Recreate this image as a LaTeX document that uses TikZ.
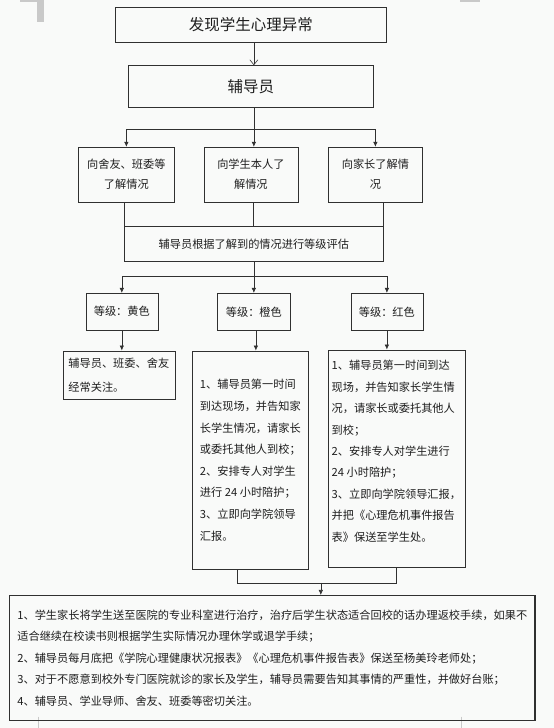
\documentclass[tikz,border=0pt]{standalone}
\usepackage{fontspec}
\setmainfont{Noto Sans CJK SC}
\usepackage{tikz}
\usetikzlibrary{arrows.meta,positioning}
\definecolor{lineink}{HTML}{303030}
\definecolor{textink}{HTML}{1E1E1E}
\definecolor{pagebg}{HTML}{F9FAF9}
\definecolor{markgray}{HTML}{C9C9C9}

\begin{document}
\begin{tikzpicture}[
  x=1pt, y=-1pt,
  box/.style={rectangle, draw=lineink, line width=0.6pt, text=textink, inner sep=0pt, align=center, font=\fontsize{11.2}{20}\selectfont},
  titlebox/.style={box, font=\fontsize{15.5}{18}\selectfont},
  notebox/.style={box, align=left, font=\fontsize{11.2}{21.6}\selectfont},
  arrow/.style={-{Latex[length=5pt,width=4.5pt]}, line width=0.6pt, draw=lineink},
  openarrow/.style={-{Straight Barb[length=5pt,width=8pt]}, line width=0.6pt, draw=lineink},
  link/.style={line width=0.6pt, draw=lineink}
]
% page and margin marks
\fill[pagebg] (0,0) rectangle (554,728);
\fill[markgray] (37,0) rectangle (44,22);
\fill[markgray] (20,0) rectangle (44,1.5);
\fill[markgray] (460,0) rectangle (480,1.5);
\draw[markgray, line width=0.8pt] (38,717) -- (38,728);
\draw[markgray, line width=0.8pt] (462,717) -- (462,728);

\node[titlebox, minimum width=272pt, minimum height=35pt] (found) at (251,24.5) {发现学生心理异常};
\node[titlebox, minimum width=246pt, minimum height=42pt, below=23pt of found] (cnsl) {辅导员};
\node[box, minimum width=94pt, minimum height=55pt, below=39pt of cnsl] (ask2) {向学生本人了\\解情况};
\node[box, minimum width=96pt, minimum height=55pt, left=29pt of ask2] (ask1) {向舍友、班委等\\了解情况};
\node[box, minimum width=94pt, minimum height=55pt, right=30pt of ask2] (ask3) {向家长了解情\\况};
\node[box, minimum width=260pt, minimum height=35pt, below=24pt of ask2, xshift=3pt] (assess) {辅导员根据了解到的情况进行等级评估};
\node[box, minimum width=73pt, minimum height=37pt, below=31pt of assess] (orange) {等级：橙色};
\node[box, minimum width=72pt, minimum height=37pt, left=59pt of orange] (yellow) {等级：黄色};
\node[box, minimum width=72pt, minimum height=37pt, right=60pt of orange] (red) {等级：红色};
\node[notebox, font=\fontsize{11.2}{24}\selectfont, minimum width=112pt, minimum height=49pt, below=20pt of yellow, xshift=-3pt] (yellowact) {辅导员、班委、舍友\\经常关注。};
\node[notebox, minimum width=116pt, minimum height=219pt, below=20pt of orange, xshift=-3.5pt] (orangeact) {1、辅导员第一时间\\到达现场，并告知家\\长学生情况，请家长\\或委托其他人到校；\\2、安排专人对学生\\进行 24 小时陪护；\\3、立即向学院领导\\汇报。};
\node[notebox, font=\fontsize{11.2}{21.4}\selectfont, minimum width=137pt, minimum height=218pt, text depth=16pt, below=19pt of red, xshift=9.5pt] (redact) {1、辅导员第一时间到达\\现场，并告知家长学生情\\况，请家长或委托其他人\\到校；\\2、安排专人对学生进行\\24 小时陪护；\\3、立即向学院领导汇报，\\并把《心理危机事件报告\\表》保送至学生处。};
\node[notebox, font=\fontsize{11.2}{21.5}\selectfont, minimum width=526pt, minimum height=125pt, line width=1.5pt, below=25pt of orangeact, xshift=22pt] (after) {1、学生家长将学生送至医院的专业科室进行治疗，治疗后学生状态适合回校的话办理返校手续，如果不\\适合继续在校读书则根据学生实际情况办理休学或退学手续；\\2、辅导员每月底把《学院心理健康状况报表》《心理危机事件报告表》保送至杨美玲老师处；\\3、对于不愿意到校外专门医院就诊的家长及学生，辅导员需要告知其事情的严重性，并做好台账；\\4、辅导员、学业导师、舍友、班委等密切关注。};

\draw[openarrow] ([xshift=3pt]found.south) -- ([xshift=3pt]found.south |- cnsl.north);
\draw[link] ([xshift=3pt]cnsl.south) -- ++(0pt,-21pt) coordinate (split1);
\draw[arrow] (split1) -| (ask1);
\draw[arrow] (split1) -- (split1 |- ask2.north);
\draw[arrow] (split1) -| (ask3);
\draw[link] ([xshift=-2pt]ask1.south) -- ([xshift=-2pt]ask1.south |- assess.north);
\draw[link] ([xshift=2pt]ask2.south) -- ([xshift=2pt]ask2.south |- assess.north);
\draw[link] ([xshift=8pt]ask3.south) -- ([xshift=8pt]ask3.south |- assess.north);
\draw[link] (assess.south) -- ++(0pt,-14pt) coordinate (split2);
\draw[arrow] (split2) -| (yellow);
\draw[arrow] (split2) -- (split2 |- orange.north);
\draw[arrow] (split2) -| (red);
\draw[arrow] (yellow.south) -- (yellow.south |- yellowact.north);
\draw[arrow] ([xshift=2pt]orange.south) -- ([xshift=2pt]orange.south |- orangeact.north);
\draw[arrow] (red.south) -- (red.south |- redact.north);
\coordinate (merge) at ([xshift=70.5pt,yshift=-13pt]orangeact.south);
\draw[link] ([xshift=-13.5pt]orangeact.south) |- (merge) -| (redact.south);
\draw[arrow] (merge) -- (merge |- after.north);
\end{tikzpicture}
\end{document}
